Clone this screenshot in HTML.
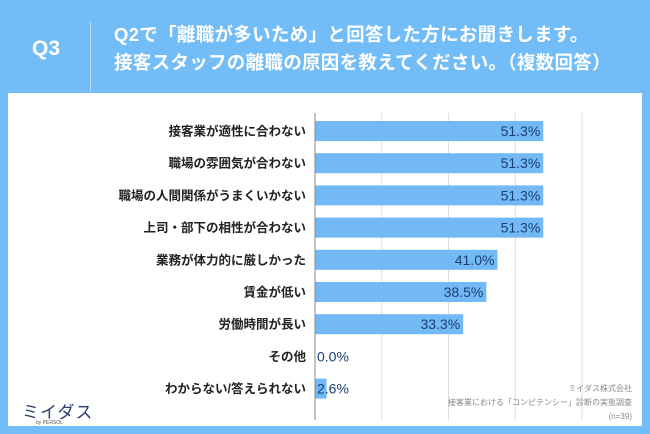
<!DOCTYPE html>
<html><head><meta charset="utf-8"><style>
body{margin:0;width:650px;height:434px;background:#72bdf8;font-family:"Liberation Sans","Noto Sans CJK JP",sans-serif;position:relative;overflow:hidden}
.abs{position:absolute}
</style></head><body>
<div class="abs" style="left:32px;top:37px;color:#fff;font-size:21px;font-weight:bold">Q3</div>
<div class="abs" style="left:90px;top:22px;width:1px;height:70px;background:#b9dcfa"></div>
<div class="abs" style="left:114px;top:21px;color:#fff;font-size:18.5px;font-weight:bold;line-height:28px;white-space:nowrap;letter-spacing:0.3px">Q2で「離職が多いため」と回答した方にお聞きします。<br>接客スタッフの離職の原因を教えてください。（複数回答）</div>
<div class="abs" style="left:8px;top:93px;width:634px;height:333px;background:#fff"></div>
<svg class="abs" style="left:0;top:0" width="650" height="434" id="chart"></svg>
<div class="abs" style="left:22px;top:398px;color:#2b3e6a;font-size:17px;letter-spacing:1px">ミイダス</div>
<div class="abs" style="left:36px;top:420px;color:#555;font-size:5px">by PERSOL</div>
<div class="abs" style="right:18px;top:382px;color:#888;font-size:8px;line-height:14px;text-align:right">ミイダス株式会社<br>接客業における「コンピテンシー」診断の実態調査<br>(n=39)</div>
<script>
const categories=["接客業が適性に合わない","職場の雰囲気が合わない","職場の人間関係がうまくいかない","上司・部下の相性が合わない","業務が体力的に厳しかった","賃金が低い","労働時間が長い","その他","わからない/答えられない"];
const values=[51.3,51.3,51.3,51.3,41.0,38.5,33.3,0.0,2.6];
const gridTicks=[15,30,45,60];
const svg=document.getElementById('chart');
const NS='http://www.w3.org/2000/svg';
const x0=315,xMax=60,pxW=267;
const x=v=>x0+v/xMax*pxW;
const rowY=i=>131+i*32.2;
function mk(t,a){const e=document.createElementNS(NS,t);for(const k in a)e.setAttribute(k,a[k]);svg.appendChild(e);return e;}
gridTicks.forEach(t=>{const l=mk('line',{x1:x(t),x2:x(t),y1:113,y2:420,stroke:'#ddd','stroke-width':1});

});
categories.forEach((c,i)=>{
const y=rowY(i);
const r=mk('rect',{x:x0,y:y-10,width:x(values[i])-x0,height:20,fill:'#72b9f5'});


const lb=mk('text',{x:306,y:y+4.5,'text-anchor':'end','font-size':12.5,'font-weight':'bold',fill:'#222'});lb.textContent=c;


const small=values[i]<10;
const vt=mk('text',{x:small?x0+2:x(values[i])-3,y:y+5,'text-anchor':small?'start':'end','font-size':14,fill:'#1d3f72'});vt.textContent=values[i].toFixed(1)+'%';


});
const ax=mk('line',{x1:x0,x2:x0,y1:113,y2:420,stroke:'#888','stroke-width':1});


</script>
</body></html>
